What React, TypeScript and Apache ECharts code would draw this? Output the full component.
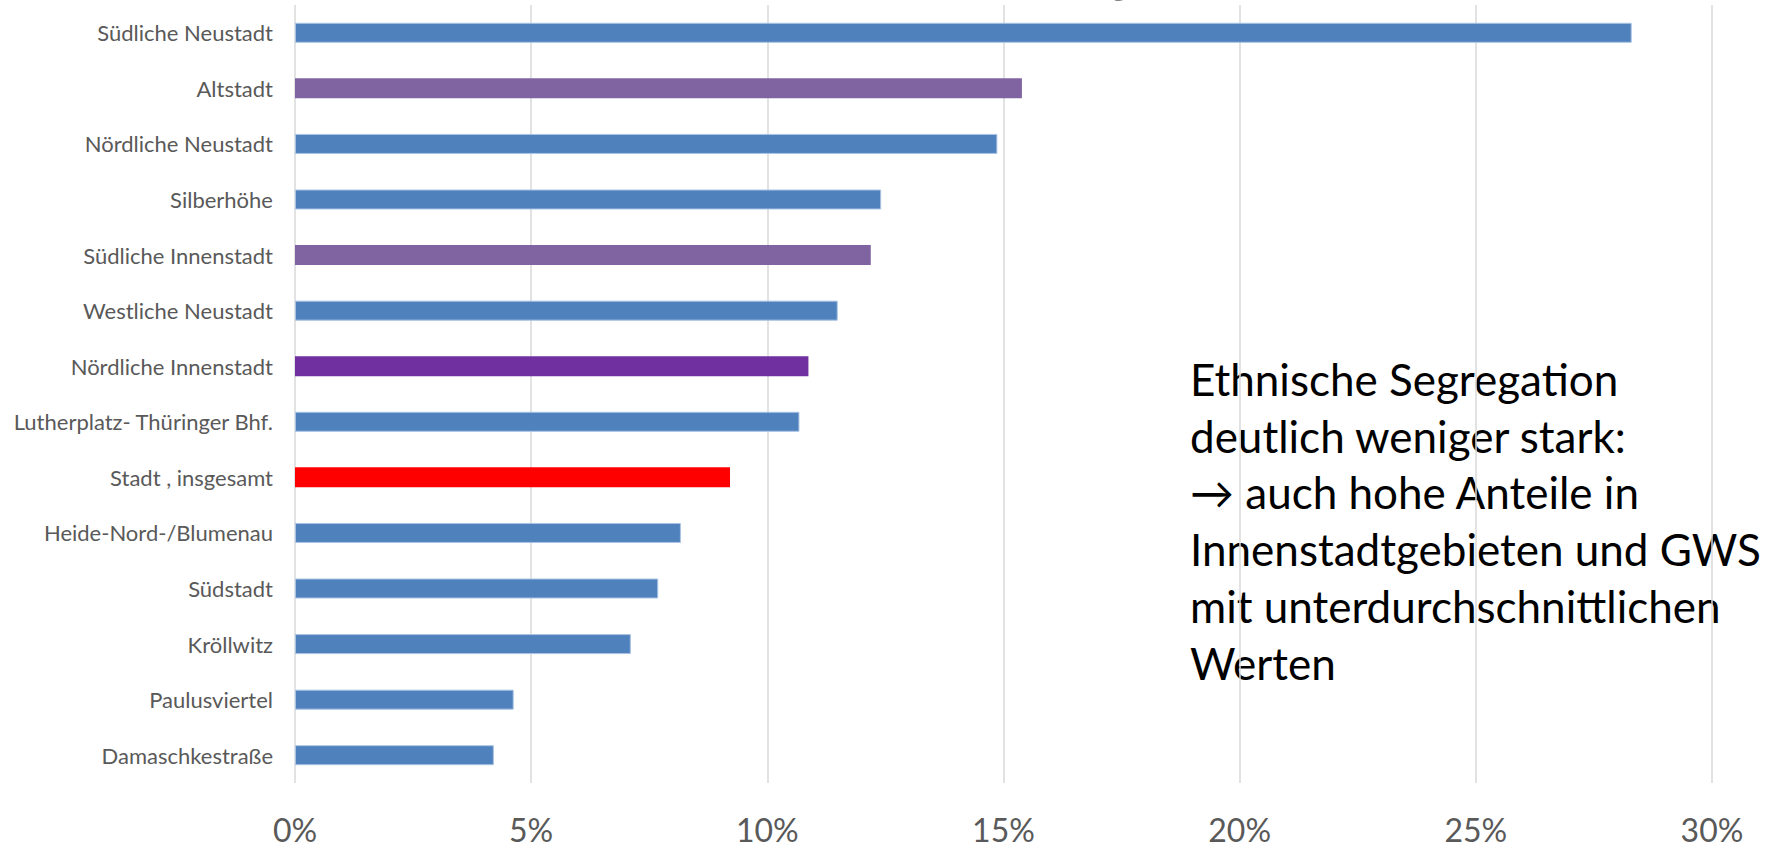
import React, { useEffect, useRef } from "react";
import * as echarts from "echarts";

// ---- data ----
const categories = [
  "Südliche Neustadt",
  "Altstadt",
  "Nördliche Neustadt",
  "Silberhöhe",
  "Südliche Innenstadt",
  "Westliche Neustadt",
  "Nördliche Innenstadt",
  "Lutherplatz- Thüringer Bhf.",
  "Stadt , insgesamt",
  "Heide-Nord-/Blumenau",
  "Südstadt",
  "Kröllwitz",
  "Paulusviertel",
  "Damaschkestraße",
];
const values = [28.3, 15.39, 14.87, 12.41, 12.19, 11.49, 10.87, 10.68, 9.21, 8.17, 7.69, 7.11, 4.63, 4.21];
const xTicks = [0, 5, 10, 15, 20, 25, 30];
const annotationLines = [
  "Ethnische Segregation",
  "deutlich weniger stark:",
  "→ auch hohe Anteile in",
  "Innenstadtgebieten und GWS",
  "mit unterdurchschnittlichen",
  "Werten",
];

// ---- styles ----
const specialColors: Record<string, string> = {
  "Altstadt": "#8064A2",
  "Südliche Innenstadt": "#8064A2",
  "Nördliche Innenstadt": "#7030A0",
  "Stadt , insgesamt": "#FF0000",
};
const BLUE = "#4F81BD";
const FONT = "Lato, 'Open Sans', sans-serif";

export default function App() {
  const ref = useRef<HTMLDivElement>(null);
  useEffect(() => {
    if (!ref.current) return;
    const chart = echarts.init(ref.current, undefined, { renderer: "svg" });
    const data = values.map((v, i) => {
      const c = specialColors[categories[i]];
      return {
        value: v,
        itemStyle: c
          ? { color: c, borderWidth: 0 }
          : { color: BLUE, borderColor: "#A9C3E3", borderWidth: 1 },
      };
    });
    const option: any = {
      animation: false,
      backgroundColor: "#ffffff",
      grid: { left: 295, right: 54, top: 5, bottom: 65, containLabel: false },
      xAxis: {
        type: "value",
        min: xTicks[0],
        max: xTicks[xTicks.length - 1],
        interval: 5,
        axisLine: { show: false },
        axisTick: { show: false },
        splitLine: { show: true, lineStyle: { color: "#D9D9D9", width: 1.5 } },
        axisLabel: {
          formatter: "{value}%",
          color: "#595959",
          fontSize: 32,
          fontFamily: FONT,
          margin: 30,
        },
      },
      yAxis: {
        type: "category",
        data: categories,
        inverse: true,
        axisLine: { show: false },
        axisTick: { show: false },
        splitLine: { show: false },
        axisLabel: {
          color: "#595959",
          fontSize: 22,
          fontFamily: FONT,
          margin: 22,
        },
      },
      series: [
        {
          type: "bar",
          data,
          barWidth: 20,
          silent: true,
        },
      ],
      graphic: [
        ...annotationLines.map((t, i) => ({
          type: "text",
          left: 1190,
          top: 383 + i * 56.7 - 26,
          style: {
            text: t,
            fill: "#000000",
            font: `44px ${FONT}`,
          },
        })),
        {
          type: "text",
          x: 1106,
          y: -3,
          style: {
            text: "g",
            fill: "#000000",
            font: `52px ${FONT}`,
            verticalAlign: "bottom",
          },
        },
      ],
    };
    chart.setOption(option);
    return () => chart.dispose();
  }, []);
  return (
    <div
      ref={ref}
      style={{ position: "fixed", left: 0, top: 0, width: 1766, height: 848, background: "#fff" }}
    />
  );
}
